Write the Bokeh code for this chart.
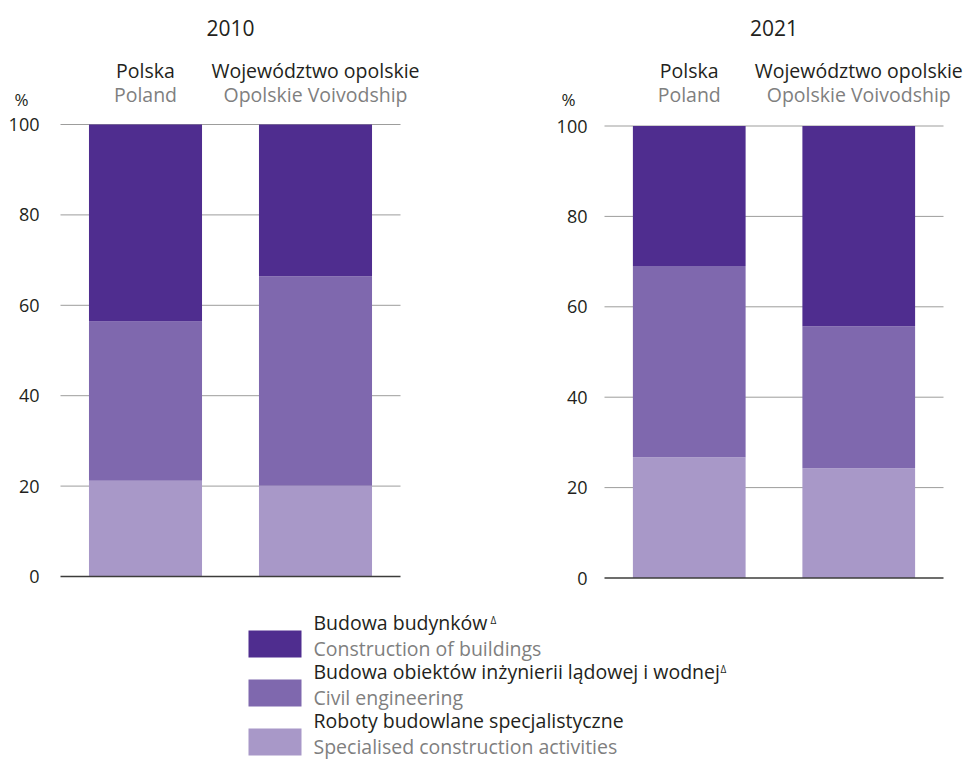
from bokeh.plotting import figure
from bokeh.layouts import column, row
from bokeh.models import Range1d, ColumnDataSource
from bokeh.core.properties import value
from bokeh.embed import file_html
from bokeh.resources import INLINE

# ---------------- data ----------------
years = ["2010", "2021"]
regions_pl = ["Polska", "Województwo opolskie"]
regions_en = ["Poland", "Opolskie Voivodship"]
series_pl = ["Budowa budynków", "Budowa obiektów inżynierii lądowej i wodnej",
             "Roboty budowlane specjalistyczne"]
series_en = ["Construction of buildings", "Civil engineering",
             "Specialised construction activities"]
series_mark = ["Δ", "Δ", ""]
# shares in % for [Polska, Województwo opolskie]
specialised_2010 = [21.2, 20.1]
civil_2010 = [35.2, 46.3]
buildings_2010 = [43.6, 33.6]
specialised_2021 = [26.7, 24.3]
civil_2021 = [42.3, 31.4]
buildings_2021 = [31.0, 44.3]
y_ticks = [0, 20, 40, 60, 80, 100]
y_unit = "%"

# ---------------- style ----------------
FONT = "Open Sans"
DARK = "#231F20"
GREY = "#7F7F7F"
GRID = "#9D9D9C"
col_build = "#4F2D8F"
col_civil = "#7F68AE"
col_spec = "#A898C8"
series_colors = [col_build, col_civil, col_spec]

CH = 590  # chart canvas height


def make_chart(year, spec, civil, build, W, span_left, span_w, zero_px, top_px,
               tick_off, pct_off):
    n = len(regions_pl)
    unit = span_w / n
    ppu = (zero_px - top_px) / 100.0
    p = figure(x_range=Range1d(-span_left / unit, (W - span_left) / unit),
               y_range=Range1d(-(CH - zero_px) / ppu, zero_px / ppu),
               width=W, height=CH, min_border=0,
               output_backend="svg", toolbar_location=None)
    p.outline_line_color = None
    p.axis.visible = False
    p.grid.visible = False

    def ypx(px):
        return (zero_px - px) / ppu

    # gridlines
    p.segment(x0=0, x1=n, y0=y_ticks[1:], y1=y_ticks[1:], line_color=GRID,
              line_width=1)

    xs = [i + 0.5 for i in range(n)]
    src = ColumnDataSource(dict(x=xs, region=regions_pl, en=regions_en,
                                spec=spec, civil=civil, build=build))
    p.vbar_stack(["spec", "civil", "build"], x="x", width=0.665,
                 fill_color=[col_spec, col_civil, col_build], line_color=None,
                 source=src)
    # baseline
    p.segment(x0=0, x1=n, y0=y_ticks[0], y1=y_ticks[0], line_color="#3C3C3B",
              line_width=1.5)

    # y tick labels
    p.text(x=0, y=y_ticks, text=[str(t) for t in y_ticks], x_offset=tick_off,
           text_font=value(FONT), text_font_size="18px", text_color=DARK,
           text_align="right", text_baseline="middle")
    p.text(x=0, y=ypx(99), text=[y_unit], x_offset=pct_off,
           text_font=value(FONT), text_font_size="17px", text_color=DARK,
           text_align="center", text_baseline="middle")

    # category labels
    p.text(x="x", y=ypx(70), text="region", source=src,
           text_font=value(FONT), text_font_size="19.5px", text_color=DARK,
           text_align="center", text_baseline="middle")
    p.text(x="x", y=ypx(94), text="en", source=src,
           text_font=value(FONT), text_font_size="19.5px", text_color=GREY,
           text_align="center", text_baseline="middle")
    # year title
    p.text(x=n / 2, y=ypx(27), text=[year],
           text_font=value(FONT), text_font_size="21px", text_color=DARK,
           text_align="center", text_baseline="middle")
    return p


p1 = make_chart(years[0], specialised_2010, civil_2010, buildings_2010,
                W=485, span_left=60, span_w=340, zero_px=576, top_px=124,
                tick_off=-21, pct_off=-39)
p2 = make_chart(years[1], specialised_2021, civil_2021, buildings_2021,
                W=484, span_left=119, span_w=339, zero_px=577.5, top_px=125.5,
                tick_off=-17, pct_off=-36)

# ---------------- legend ----------------
LW, LH = 960, 175
leg = figure(x_range=Range1d(0, LW), y_range=Range1d(LH, 0), width=LW, height=LH,
             min_border=0, output_backend="svg", toolbar_location=None)
leg.axis.visible = False
leg.grid.visible = False
leg.outline_line_color = None

n = len(series_pl)
row_c = [53.5 + 49 * i for i in range(n)]
leg_src = ColumnDataSource(dict(
    cy=row_c,
    y1=[c - 21.5 for c in row_c],
    y2=[c + 4.5 for c in row_c],
    pl=series_pl, en=series_en, color=series_colors))
leg.rect(x=274.5, y="cy", width=53, height=27, fill_color="color",
         line_color=None, source=leg_src)
leg.text(x=313, y="y1", text="pl", source=leg_src, text_font=value(FONT),
         text_font_size="19.5px", text_color=DARK, text_baseline="middle")
leg.text(x=313, y="y2", text="en", source=leg_src, text_font=value(FONT),
         text_font_size="19.5px", text_color=GREY, text_baseline="middle")
mark_x = [490, 720, 0]
mark_src = ColumnDataSource(dict(
    x=[mark_x[i] for i in range(n) if series_mark[i]],
    y=[row_c[i] - 24 for i in range(n) if series_mark[i]],
    t=[series_mark[i] for i in range(n) if series_mark[i]]))
leg.text(x="x", y="y", text="t", source=mark_src, text_font=value(FONT),
         text_font_size="10px", text_color=DARK, text_baseline="middle")

layout = column(row(p1, p2), leg)
open("out.html", "w").write(file_html(layout, INLINE))
